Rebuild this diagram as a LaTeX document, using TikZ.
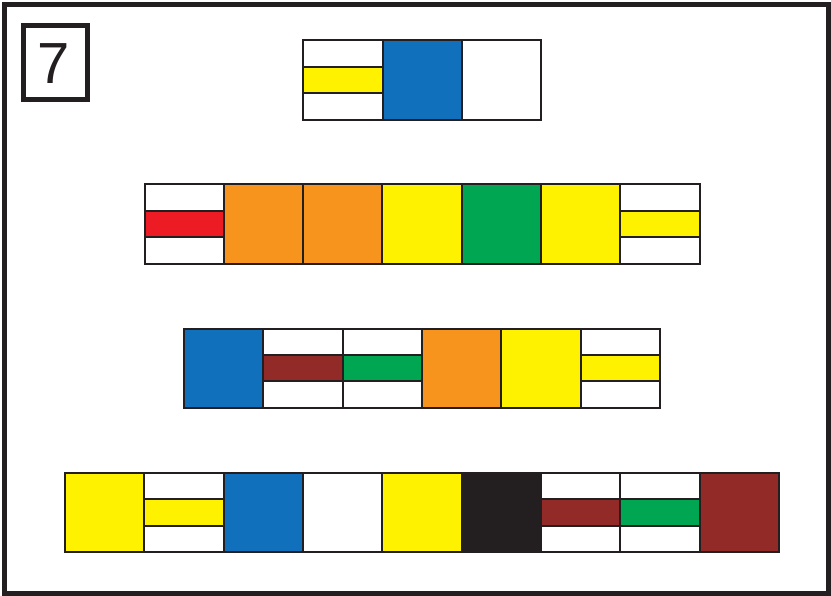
\documentclass[tikz,border=0pt]{standalone}
\usepackage{fontspec}
\setsansfont{Liberation Sans}
\definecolor{lineC}{HTML}{231F20}
\definecolor{myY}{HTML}{FFF200}
\definecolor{myB}{HTML}{1170BB}
\definecolor{myO}{HTML}{F7941D}
\definecolor{myR}{HTML}{ED1C24}
\definecolor{myG}{HTML}{00A651}
\definecolor{myBr}{HTML}{922A27}
\definecolor{myK}{HTML}{231F20}
\tikzset{
  cellline/.style={draw=lineC, line width=2pt, line join=miter},
  frame/.style={draw=lineC, line width=5pt},
}
\newcommand\cellf[3]{%
  \path[cellline, fill=#3] ({#1},{#2}) rectangle ++(79.33,79.33);}
\newcommand\cells[3]{%
  \path[fill=white] ({#1},{#2}) rectangle ++(79.33,79.33);
  \path[cellline, fill=#3] ({#1},{#2+26.44}) rectangle ++(79.33,26.44);
  \path[cellline] ({#1},{#2}) rectangle ++(79.33,79.33);}
\begin{document}
\begin{tikzpicture}[x=1pt,y=-1pt]
\useasboundingbox (0,0) rectangle (831,596);
\fill[white] (0,0) rectangle (831,596);
\draw[frame] (4.5,4.5) rectangle (828.5,593.5);
\draw[frame] (23.5,26) rectangle (87,100);
\node[inner sep=0pt, text=lineC] (seven) at (54,63.5) {\fontsize{58}{58}\selectfont\sffamily 7};
% row 1
\foreach \t/\c [count=\i from 0] in {s/myY,f/myB,f/white}
  {\csname cell\t\endcsname{303.3+\i*79.33}{40.3}{\c}}
% row 2
\foreach \t/\c [count=\i from 0] in {s/myR,f/myO,f/myO,f/myY,f/myG,f/myY,s/myY}
  {\csname cell\t\endcsname{144.5+\i*79.33}{184.3}{\c}}
% row 3
\foreach \t/\c [count=\i from 0] in {f/myB,s/myBr,s/myG,f/myO,f/myY,s/myY}
  {\csname cell\t\endcsname{184+\i*79.33}{328.6}{\c}}
% row 4
\foreach \t/\c [count=\i from 0] in {f/myY,s/myY,f/myB,f/white,f/myY,f/myK,s/myBr,s/myG,f/myBr}
  {\csname cell\t\endcsname{65+\i*79.33}{472.9}{\c}}
\end{tikzpicture}
\end{document}
